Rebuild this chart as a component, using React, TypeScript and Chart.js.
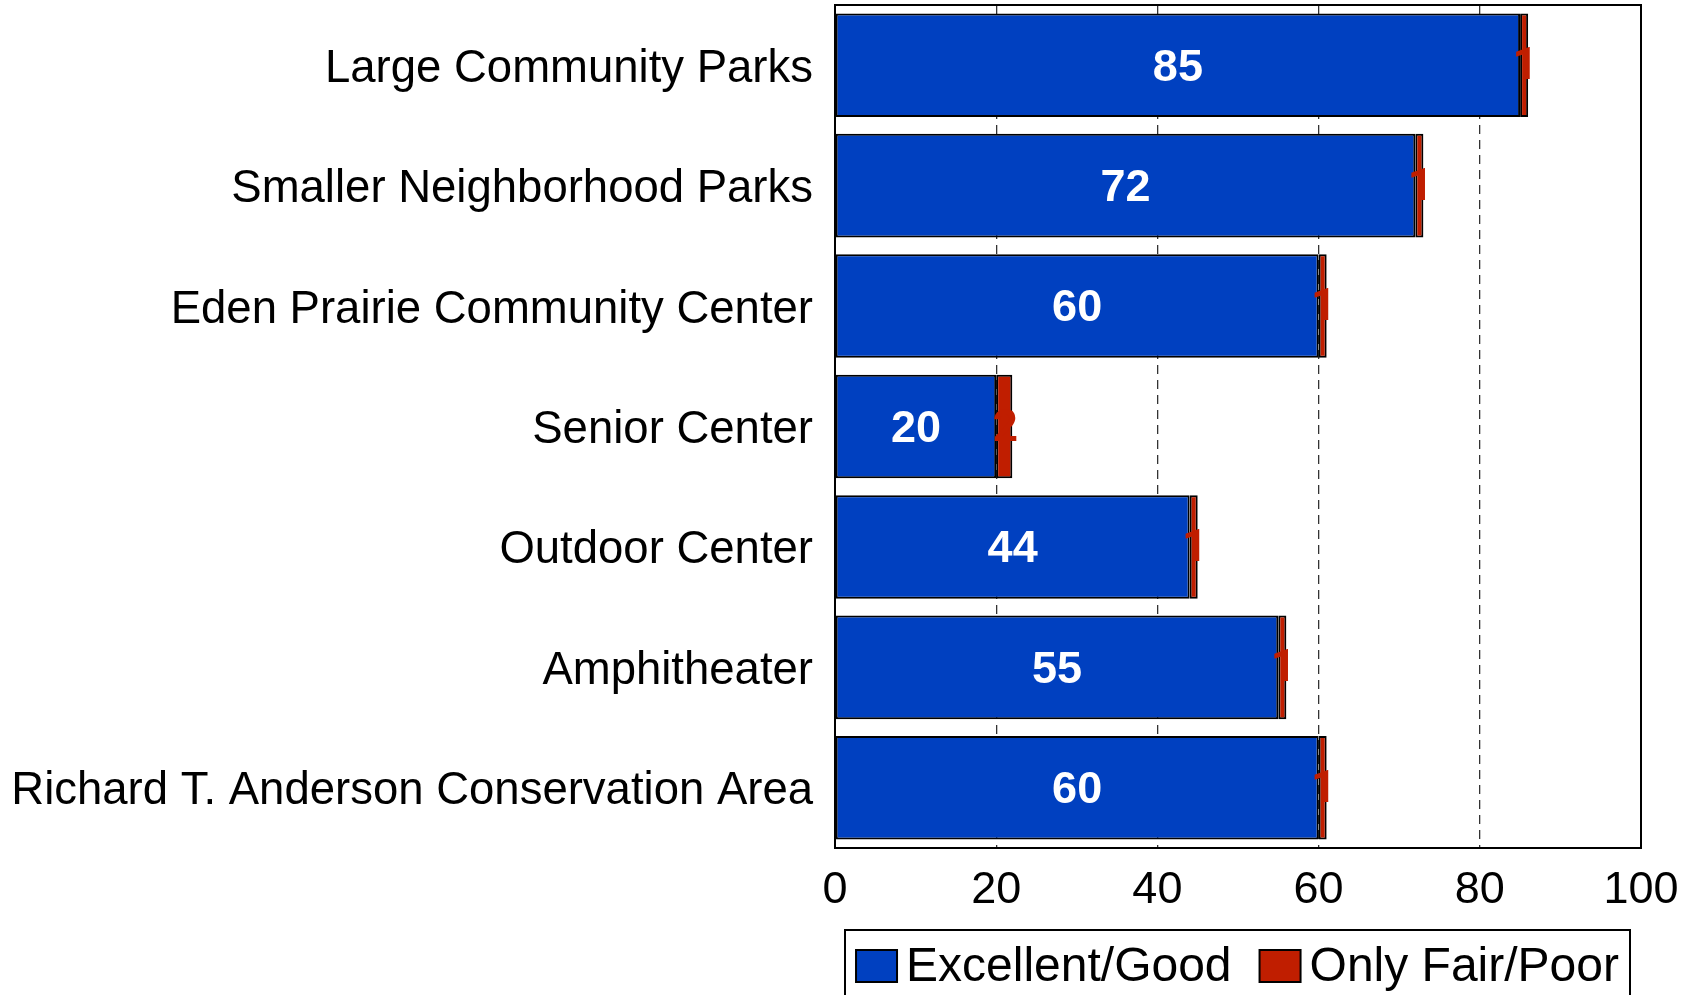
import React, { useEffect, useRef } from 'react';
import { Chart, registerables } from 'chart.js';

Chart.register(...registerables);

const categories = [
  'Large Community Parks',
  'Smaller Neighborhood Parks',
  'Eden Prairie Community Center',
  'Senior Center',
  'Outdoor Center',
  'Amphitheater',
  'Richard T. Anderson Conservation Area',
];
const excellentGood = [85, 72, 60, 20, 44, 55, 60];
const onlyFairPoor = [1, 1, 1, 2, 1, 1, 1];
const seriesNames = ['Excellent/Good', 'Only Fair/Poor'];
const seriesColors = ['#0040C0', '#C01E00'];
const labelColors = ['#FFFFFF', '#C01E00'];
const xMin = 0;
const xMax = 100;
const xStep = 20;

const FONT = '"Liberation Sans", Arial, Helvetica, sans-serif';

const overlay = {
  id: 'overlay',
  afterDatasetsDraw(chart: any) {
    const { ctx, chartArea: a } = chart;
    ctx.save();
    // value labels
    chart.data.datasets.forEach((ds: any, di: number) => {
      const meta = chart.getDatasetMeta(di);
      meta.data.forEach((el: any, i: number) => {
        const p = el.getProps(['x', 'base', 'y'], true);
        ctx.fillStyle = labelColors[di];
        ctx.font = di === 0 ? `bold 45px ${FONT}` : `bold 44px Roboto, ${FONT}`;
        ctx.textAlign = 'center';
        ctx.textBaseline = 'middle';
        ctx.fillText(String(ds.data[i]), (p.x + p.base) / 2 + (di === 0 ? 0 : 1), p.y + 3);
      });
    });
    // frame
    ctx.strokeStyle = '#000';
    ctx.lineWidth = 2;
    ctx.strokeRect(a.left, a.top, a.width, a.height);

    // legend
    const boxLeft = a.left + 10;
    const boxRight = a.right - 11;
    const boxTop = a.bottom + 82;
    const cy = boxTop + 36;
    ctx.font = `48px ${FONT}`;
    const sq = 41;
    const sqH = 32;
    const gap = 9;
    const itemGap = 28;
    const widths = seriesNames.map((n) => ctx.measureText(n).width);
    const total = widths.reduce((s, w) => s + sq + gap + w, 0) + itemGap * (seriesNames.length - 1);
    let x = (boxLeft + boxRight) / 2 - total / 2;
    ctx.lineWidth = 2;
    ctx.strokeStyle = '#000';
    ctx.strokeRect(boxLeft, boxTop, boxRight - boxLeft, chart.height - boxTop + 10);
    seriesNames.forEach((n, i) => {
      ctx.fillStyle = seriesColors[i];
      ctx.fillRect(x, cy - sqH / 2, sq, sqH);
      ctx.strokeRect(x, cy - sqH / 2, sq, sqH);
      ctx.fillStyle = '#000';
      ctx.textAlign = 'left';
      ctx.textBaseline = 'middle';
      ctx.fillText(n, x + sq + gap, cy + 2);
      x += sq + gap + widths[i] + itemGap;
    });
    ctx.restore();
  },
};

export default function App() {
  const ref = useRef<HTMLCanvasElement | null>(null);
  useEffect(() => {
    if (!ref.current) return;
    const chart = new Chart(ref.current, {
      type: 'bar',
      data: {
        labels: categories,
        datasets: [
          {
            label: seriesNames[0],
            data: excellentGood,
            backgroundColor: seriesColors[0],
            borderColor: '#000',
            borderWidth: 2,
            borderSkipped: false,
            barPercentage: 0.86,
            categoryPercentage: 1,
          },
          {
            label: seriesNames[1],
            data: onlyFairPoor,
            backgroundColor: seriesColors[1],
            borderColor: '#000',
            borderWidth: 2,
            borderSkipped: false,
            barPercentage: 0.86,
            categoryPercentage: 1,
          },
        ],
      },
      options: {
        indexAxis: 'y',
        responsive: false,
        animation: false,
        devicePixelRatio: 1,
        layout: { padding: { top: 5, right: 51, left: 0, bottom: 0 } },
        plugins: {
          legend: { display: false },
          tooltip: { enabled: false },
        },
        scales: {
          x: {
            type: 'linear',
            stacked: true,
            min: xMin,
            max: xMax,
            ticks: {
              stepSize: xStep,
              color: '#000',
              font: { family: FONT, size: 45 },
              padding: 16,
            },
            grid: {
              color: '#333',
              lineWidth: 1.3,
              drawTicks: false,
            },
            border: { display: false, dash: [9, 6] },
            afterFit(scale: any) {
              scale.height = 147;
              scale.paddingLeft = 0;
              scale.paddingRight = 0;
            },
          },
          y: {
            type: 'category',
            stacked: true,
            ticks: {
              color: '#000',
              font: { family: FONT, size: 45.5 },
              padding: 22,
              labelOffset: 4,
            },
            grid: { display: false, drawTicks: false },
            border: { display: false },
            afterFit(scale: any) {
              scale.width = 835;
              scale.paddingTop = 0;
              scale.paddingBottom = 0;
            },
          },
        },
      },
      plugins: [overlay],
    } as any);
    return () => chart.destroy();
  }, []);
  return (
    <div style={{ position: 'absolute', left: 0, top: 0, width: 1692, height: 995 }}>
      <canvas ref={ref} width={1692} height={995} style={{ display: 'block' }} />
    </div>
  );
}
